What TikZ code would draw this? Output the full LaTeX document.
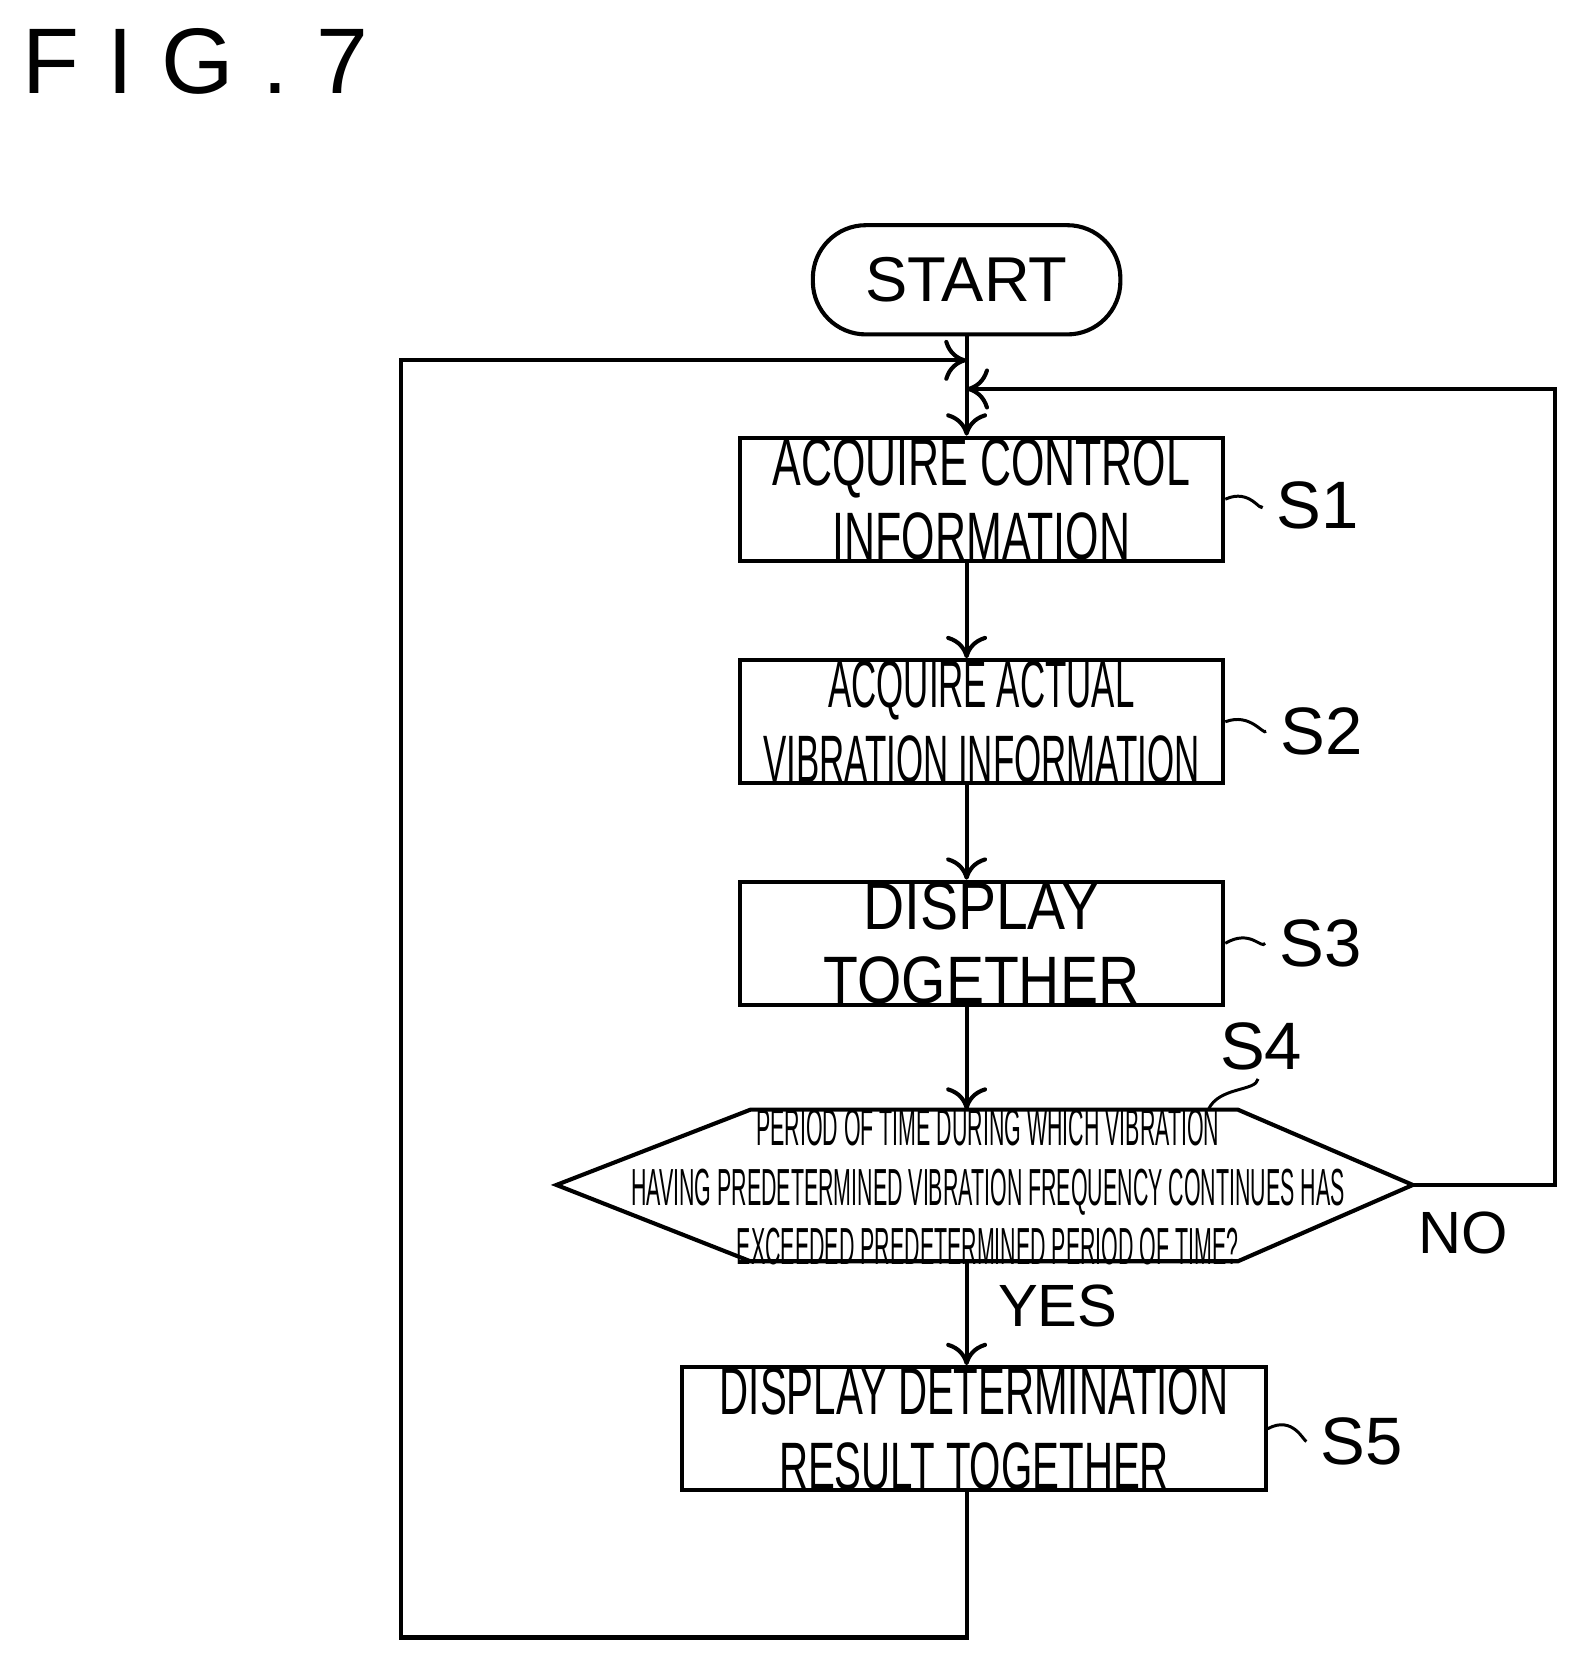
\documentclass[tikz,border=0pt]{standalone}
\usepackage{fontspec}
\setmainfont{Liberation Sans}
\newfontfamily\fa[FakeStretch=0.64]{Liberation Sans}
\newfontfamily\fb[FakeStretch=0.52]{Liberation Sans}
\newfontfamily\fc[FakeStretch=0.41]{Liberation Sans}
\newfontfamily\fd[FakeStretch=0.6]{Liberation Sans}
\newfontfamily\fe[FakeStretch=0.85]{Liberation Sans}
\usetikzlibrary{arrows.meta}
\begin{document}
\begin{tikzpicture}[x=0.01cm,y=-0.01cm,line width=1.1pt,
  box/.style={draw,minimum width=4.56cm,minimum height=1.16cm,inner sep=0pt,align=center},
  arr/.style={-{To[length=6pt,width=11pt]}},
  lab/.style={font=\fontsize{16}{16}\selectfont},
  sl/.style={font=\fontsize{18}{18}\selectfont},
  wv/.style={line width=0.8pt}]
\useasboundingbox (0,0) rectangle (1490,1570);
\node[font=\fontsize{25}{25}\selectfont,anchor=west] (fig) at (8,58) {F\hspace{0.3em}I\hspace{0.3em}G\hspace{0.3em}.\hspace{0.3em}7};
\node[draw,rounded corners=0.5cm,minimum width=2.9cm,minimum height=1.03cm,font=\fontsize{17}{17}\selectfont] (st) at (912,264) {START};
\node[box,font=\fa\fontsize{18}{20}\selectfont] (s1) at (926,471) {ACQUIRE CONTROL\\INFORMATION};
\node[box,font=\fb\fontsize{18}{20}\selectfont] (s2) at (926,681) {ACQUIRE ACTUAL\\VIBRATION INFORMATION};
\node[box,font=\fe\fontsize{18}{20}\selectfont] (s3) at (926,890) {DISPLAY\\TOGETHER};
\node[box,minimum width=5.5cm,font=\fd\fontsize{18}{20}\selectfont] (s5) at (919,1348) {DISPLAY DETERMINATION\\RESULT TOGETHER};
\draw (525,1118) coordinate (dl) -- (708,1047) -- (1168,1047) -- (1333,1118) coordinate (dr) -- (1168,1190) -- (708,1190) -- cycle;
\node[align=center,font=\fc\fontsize{14}{16}\selectfont] (s4) at (932,1120) {PERIOD OF TIME DURING WHICH VIBRATION\\HAVING PREDETERMINED VIBRATION FREQUENCY CONTINUES HAS\\EXCEEDED PREDETERMINED PERIOD OF TIME?};
\coordinate (dtop) at (912,1047);
\coordinate (dbot) at (912,1190);
\coordinate (j1) at (912,340);
\coordinate (j2) at (912,367);
\draw[arr] (st) -- (s1.north -| st);
\draw[arr] (s1.south -| st) -- (s2.north -| st);
\draw[arr] (s2.south -| st) -- (s3.north -| st);
\draw[arr] (s3.south -| st) -- (dtop);
\draw[arr] (dbot) -- (s5.north -| st);
\node[lab,anchor=west] (yes) at (928,1232) {YES};
\node[lab,anchor=west] (no) at (1325,1163) {NO};
\draw[arr] (s5.south -| st) -- (912,1545) -- (378,1545) -- (378,340) -- (j1);
\draw[arr] (dr) -- (1467,1118) -- (1467,367) -- (j2);
\node[sl] (l1) at (1243,477) {S1};
\node[sl] (l2) at (1247,690) {S2};
\node[sl] (l3) at (1246,890) {S3};
\node[sl] (l4) at (1190,987) {S4};
\node[sl] (l5) at (1285,1360) {S5};
\draw[wv] (s1.east) .. controls (1180,460) and (1190,485) .. (l1.west);
\draw[wv] (s2.east) .. controls (1180,672) and (1192,694) .. (l2.west);
\draw[wv] (s3.east) .. controls (1180,876) and (1190,896) .. (l3.west);
\draw[wv] (1140,1047) .. controls (1150,1025) and (1185,1030) .. (1187,1018);
\draw[wv] (s5.east) .. controls (1220,1335) and (1230,1360) .. (l5.west);
\end{tikzpicture}
\end{document}
